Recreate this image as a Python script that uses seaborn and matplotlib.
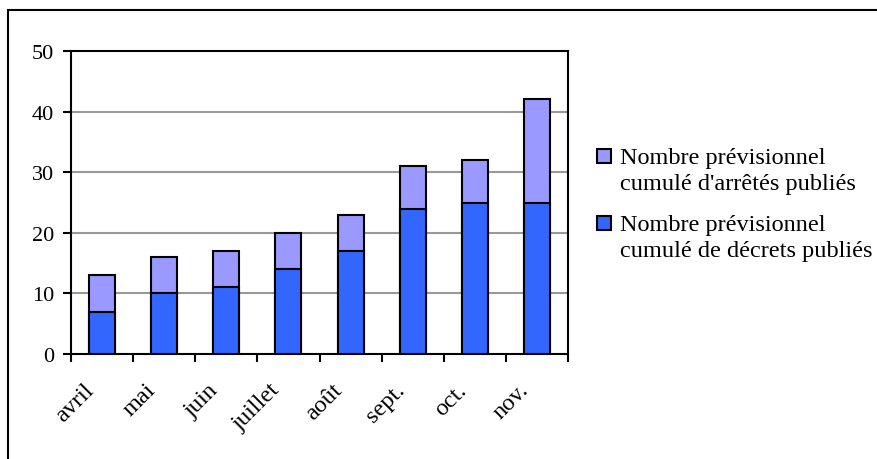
import matplotlib
matplotlib.use("Agg")
import matplotlib.pyplot as plt
from matplotlib.patches import Rectangle
from matplotlib.transforms import ScaledTranslation
import seaborn as sns
import pandas as pd

months = ["avril", "mai", "juin", "juillet", "août", "sept.", "oct.", "nov."]
decrets = [7, 10, 11, 14, 17, 24, 25, 25]
arretes = [6, 6, 6, 6, 6, 7, 7, 17]
label_arretes = "Nombre prévisionnel\ncumulé d'arrêtés publiés"
label_decrets = "Nombre prévisionnel\ncumulé de décrets publiés"

color_arretes = "#9999FF"
color_decrets = "#3366FF"

df = pd.DataFrame({"mois": months, "decrets": decrets, "arretes": arretes})
df["total"] = df["decrets"] + df["arretes"]

sns.set_theme(style="white")
plt.rcParams["font.family"] = ["Liberation Serif", "DejaVu Serif"]
plt.rcParams["text.color"] = "black"
plt.rcParams["xtick.color"] = "black"
plt.rcParams["ytick.color"] = "black"

W, H = 878, 460
fig = plt.figure(figsize=(W / 100, H / 100), dpi=100)
ax = fig.add_axes([71 / W, 1 - 355 / H, (568 - 71) / W, (355 - 52) / H])

# stacked bars: full height in light colour, decrets drawn over it
sns.barplot(data=df, x="mois", y="total", color=color_arretes, width=0.42,
            edgecolor="black", linewidth=1.5, saturation=1, ax=ax, zorder=3)
sns.barplot(data=df, x="mois", y="decrets", color=color_decrets, width=0.42,
            edgecolor="black", linewidth=1.5, saturation=1, ax=ax, zorder=4)

ax.set_xlim(-0.5, len(months) - 0.5)
ax.set_ylim(0, 50)
ax.set_yticks(range(0, 51, 10))
ax.set_xlabel("")
ax.set_ylabel("")

# horizontal grid
for v in range(10, 50, 10):
    ax.axhline(v, color="#999999", lw=1.5, zorder=1)

for s in ax.spines.values():
    s.set_visible(True)
    s.set_color("black")
    s.set_linewidth(1.5)

# tick marks between categories, labels centred on bars
ax.set_xticks([i - 0.5 for i in range(len(months) + 1)])
ax.set_xticklabels([])
ax.set_xticks(range(len(months)), minor=True)
ax.set_xticklabels(months, minor=True, rotation=45, ha="right", fontsize=17.5,
                   color="black")
ax.tick_params(axis="x", which="major", direction="out", length=6, width=1.5,
               color="black", bottom=True)
ax.tick_params(axis="x", which="minor", length=0, pad=18)
ax.tick_params(axis="y", direction="out", length=6, width=1.5, color="black",
               left=True, labelsize=16, pad=6, labelcolor="black")
shift = ScaledTranslation(-4 / 100, 0, fig.dpi_scale_trans)
for lab in ax.get_xticklabels(minor=True):
    lab.set_transform(lab.get_transform() + shift)

# legend
for y_top, col, txt in [(149, color_arretes, label_arretes),
                        (216, color_decrets, label_decrets)]:
    fig.add_artist(Rectangle((597 / W, 1 - (y_top + 15) / H), 14 / W, 14 / H,
                             transform=fig.transFigure, facecolor=col,
                             edgecolor="black", lw=1.5))
    fig.text(620 / W, 1 - (y_top - 1) / H, txt, fontsize=17.5, va="top",
             ha="left", linespacing=1.32, color="black")

# outer frame
fig.add_artist(Rectangle((8 / W, -0.1), 1.2, 1 - 11 / H + 0.1,
                         transform=fig.transFigure, fill=False,
                         edgecolor="black", lw=1.5))

fig.savefig("out.png", dpi=100)
